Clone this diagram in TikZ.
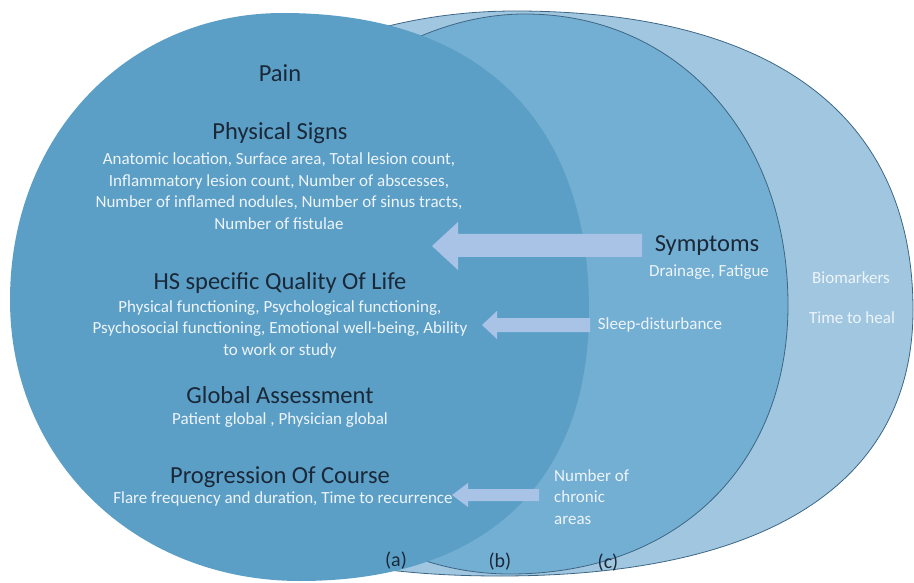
\documentclass[tikz,border=0pt]{standalone}
\usepackage{fontspec}
\setmainfont{Carlito}
\definecolor{fa}{HTML}{5B9FC7}
\definecolor{fb}{HTML}{73AFD2}
\definecolor{fc}{HTML}{A0C7DF}
\definecolor{edge}{HTML}{3E6684}
\definecolor{arrowc}{HTML}{A9C3E6}
\definecolor{headc}{HTML}{1B2838}
\definecolor{subc}{HTML}{EEF4FA}
\begin{document}
\begin{tikzpicture}[x=1pt,y=-1pt,
  region/.style={draw=edge,line width=0.8pt},
  blockarrow/.style={fill=arrowc},
  heading/.style={inner sep=0pt,text=headc,font=\fontsize{24.5}{29}\selectfont},
  subtext/.style={inner sep=0pt,text=subc,align=center,font=\fontsize{17}{21.5}\selectfont},
  lbl/.style={inner sep=0pt,text=headc,font=\fontsize{20}{24}\selectfont}]
\useasboundingbox (0,0) rectangle (914,583);
% (c) outer region
\filldraw[fc,region] (515,11) .. controls (774,11) and (913,116) .. (913,310)
  .. controls (913,483) and (768,576) .. (500,576)
  .. controls (234,576) and (120,491) .. (120,293)
  .. controls (120,138) and (298,11) .. cycle;
% (b) middle region
\filldraw[fb,region] (525,14) .. controls (678,14) and (788,136) .. (788,305)
  .. controls (788,466) and (677,574) .. (510,574)
  .. controls (356,574) and (230,448) .. (230,293)
  .. controls (230,153) and (377,14) .. cycle;
% (a) inner region
\fill[fa] (283,13) .. controls (479,13) and (589,120) .. (589,310)
  .. controls (589,483) and (485,581) .. (300,581)
  .. controls (135,581) and (10,460) .. (10,300)
  .. controls (10,136) and (127,13) .. cycle;
% block arrows
\fill[blockarrow] (642,234) -- (458,234) -- (458,222) -- (432,246) -- (458,270) -- (458,257) -- (642,257) -- cycle;
\fill[blockarrow] (590,318) -- (497,318) -- (497,311) -- (482,325) -- (497,339) -- (497,332) -- (590,332) -- cycle;
\fill[blockarrow] (539,489) -- (468,489) -- (468,483) -- (452,495) -- (468,507) -- (468,501) -- (539,501) -- cycle;
% texts
\node[heading] (pain) at (280,73) {Pain};
\node[heading] (physh) at (280,133) {Physical Signs};
\node[subtext] (phys) at (279,191) {Anatomic location, Surface area, Total lesion count,\\Inflammatory lesion count, Number of abscesses,\\Number of inflamed nodules, Number of sinus tracts,\\Number of fistulae};
\node[heading] (hsh) at (280,283) {HS specific Quality Of Life};
\node[subtext] (hs) at (280,329) {Physical functioning, Psychological functioning,\\Psychosocial functioning, Emotional well-being, Ability\\to work or study};
\node[heading] (glh) at (280,395) {Global Assessment};
\node[subtext] (gl) at (280,420) {Patient global , Physician global};
\node[heading] (prh) at (280,477) {Progression Of Course};
\node[subtext] (pr) at (283,499) {Flare frequency and duration, Time to recurrence};
\node[heading] (syh) at (707,246) {Symptoms};
\node[subtext] (sy) at (709,272) {Drainage, Fatigue};
\node[subtext] (bio) at (851,278) {Biomarkers};
\node[subtext] (heal) at (852,318) {Time to heal};
\node[subtext] (sleep) at (660,325) {Sleep-disturbance};
\node[subtext,align=left,anchor=west] (chron) at (554,497) {Number of\\chronic\\areas};
\node[lbl] (la) at (396,561) {(a)};
\node[lbl] (lb) at (500,562) {(b)};
\node[lbl] (lc) at (608,563) {(c)};
\end{tikzpicture}
\end{document}
